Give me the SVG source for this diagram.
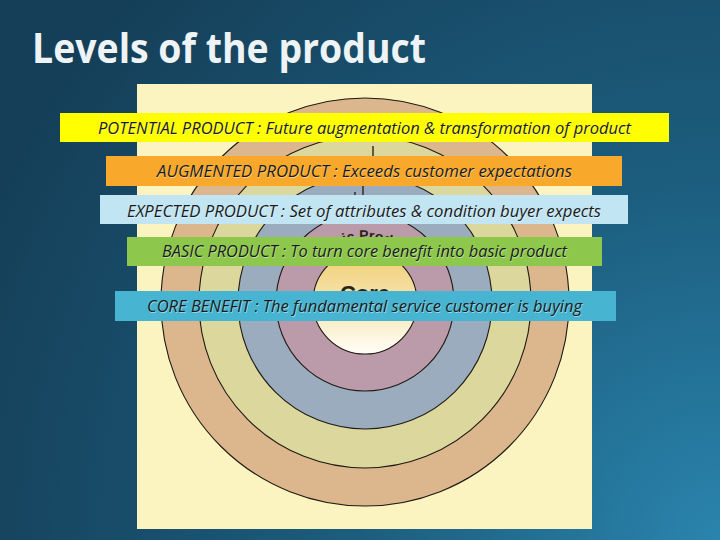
<svg xmlns="http://www.w3.org/2000/svg" width="720" height="540" viewBox="0 0 720 540">
<defs>
  <radialGradient id="bg" cx="720" cy="540" r="800" gradientUnits="userSpaceOnUse">
    <stop offset="0" stop-color="#2a84ad"/>
    <stop offset="0.45" stop-color="#1c5d7e"/>
    <stop offset="1" stop-color="#153f58"/>
  </radialGradient>
  <linearGradient id="coreg" x1="0" y1="250" x2="0" y2="354" gradientUnits="userSpaceOnUse">
    <stop offset="0" stop-color="#efcb70"/>
    <stop offset="0.45" stop-color="#f6e2a8"/>
    <stop offset="1" stop-color="#fffef8"/>
  </linearGradient>
  <path id="arcText" d="M 303,302 A 62,62 0 0 1 427,302"/>
</defs>
<style>
  .ring { stroke: #1e1a14; stroke-width: 1.1; }
  .band { stroke: none; }
  .lbl { font-family: "Open Sans", "Liberation Sans", sans-serif; font-style: italic; font-size: 16px; fill: #1a1a1a; }
  .shadow { fill: #ffffff; fill-opacity: 0.45; }
  .tick { stroke: #2a2418; stroke-width: 1.4; }
</style>
<rect x="0" y="0" width="720" height="540" fill="url(#bg)"/>
<text x="32" y="63" font-family="'Open Sans', 'Liberation Sans', sans-serif" font-weight="bold" font-size="42" fill="#eef3f6" textLength="394" lengthAdjust="spacingAndGlyphs">Levels of the product</text>

<g id="panel">
  <rect x="137" y="84" width="455" height="445" fill="#fbf4c0"/>
  <circle class="ring" cx="365" cy="302" r="204" fill="#dcb68d"/>
  <circle class="ring" cx="365" cy="302" r="166" fill="#dcd79d"/>
  <circle class="ring" cx="365" cy="302" r="127" fill="#9bacbe"/>
  <circle class="ring" cx="365" cy="302" r="89" fill="#bb9baa"/>
  <circle class="ring" cx="365" cy="302" r="52" fill="url(#coreg)"/>
  <text font-family="'Liberation Sans', sans-serif" font-weight="bold" font-size="14" fill="#2a2418" text-anchor="middle"><textPath href="#arcText" startOffset="50%">Basic Product</textPath></text>
  <text x="365" y="301" font-family="'Liberation Sans', sans-serif" font-weight="bold" font-size="22" fill="#2a2418" text-anchor="middle">Core</text>
  <line class="tick" x1="373" y1="146" x2="373" y2="158"/>
  <line class="tick" x1="363" y1="186" x2="363" y2="197"/>
  <line class="tick" x1="355" y1="192" x2="355" y2="195"/>
</g>

<g id="potential">
  <rect class="band" x="60" y="113" width="609" height="29" fill="#ffff00"/>
  <text class="lbl shadow" x="98.6" y="134.6" textLength="533" lengthAdjust="spacingAndGlyphs">POTENTIAL PRODUCT : Future augmentation &amp; transformation of product</text>
  <text class="lbl" x="98" y="134" textLength="533" lengthAdjust="spacingAndGlyphs">POTENTIAL PRODUCT : Future augmentation &amp; transformation of product</text>
</g>
<g id="augmented">
  <rect class="band" x="106" y="156" width="516" height="30" fill="#f8a82a"/>
  <text class="lbl shadow" x="157.6" y="177.6" textLength="415" lengthAdjust="spacingAndGlyphs">AUGMENTED PRODUCT : Exceeds customer expectations</text>
  <text class="lbl" x="157" y="177" textLength="415" lengthAdjust="spacingAndGlyphs">AUGMENTED PRODUCT : Exceeds customer expectations</text>
</g>
<g id="expected">
  <rect class="band" x="100" y="195" width="528" height="29" fill="#c2e5f3"/>
  <text class="lbl shadow" x="127.6" y="217.6" textLength="474" lengthAdjust="spacingAndGlyphs">EXPECTED PRODUCT : Set of attributes &amp; condition buyer expects</text>
  <text class="lbl" x="127" y="217" textLength="474" lengthAdjust="spacingAndGlyphs">EXPECTED PRODUCT : Set of attributes &amp; condition buyer expects</text>
</g>
<g id="basic">
  <rect class="band" x="127" y="237" width="475" height="29" fill="#8dc84c"/>
  <text class="lbl shadow" x="162.6" y="257.6" textLength="405" lengthAdjust="spacingAndGlyphs">BASIC PRODUCT : To turn core benefit into basic product</text>
  <text class="lbl" x="162" y="257" textLength="405" lengthAdjust="spacingAndGlyphs">BASIC PRODUCT : To turn core benefit into basic product</text>
</g>
<g id="core">
  <rect class="band" x="115" y="291" width="501" height="30" fill="#47b5d1"/>
  <text class="lbl shadow" x="147.6" y="312.6" textLength="435" lengthAdjust="spacingAndGlyphs">CORE BENEFIT : The fundamental service customer is buying</text>
  <text class="lbl" x="147" y="312" textLength="435" lengthAdjust="spacingAndGlyphs">CORE BENEFIT : The fundamental service customer is buying</text>
</g>
<g id="connectors"></g>
</svg>
